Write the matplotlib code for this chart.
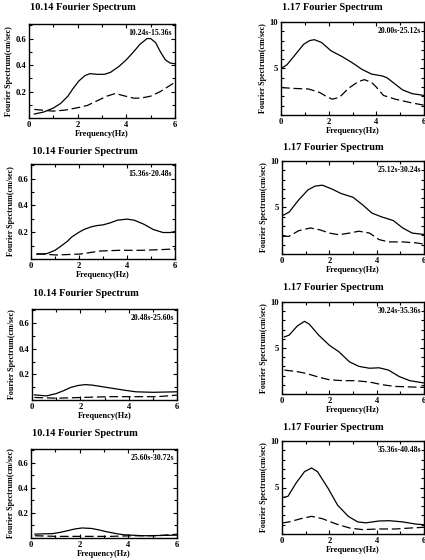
import numpy as np
import matplotlib
matplotlib.use("Agg")
import matplotlib.pyplot as plt
from matplotlib.ticker import MultipleLocator, FixedLocator

plt.rcParams['font.family'] = ['Liberation Serif', 'DejaVu Serif']
plt.rcParams['font.weight'] = 'bold'

W, H = 425, 560

# ---- left column: station 10.14 ----
f1s = [0.22, 0.6, 1.0, 1.3, 1.6, 1.8, 2.05, 2.3, 2.5, 2.8, 3.1, 3.35, 3.7, 4.0, 4.3, 4.55, 4.85, 5.0, 5.2, 5.4, 5.6, 5.8, 6.0]
a1s = [0.03, 0.045, 0.075, 0.11, 0.165, 0.22, 0.28, 0.32, 0.335, 0.33, 0.33, 0.345, 0.39, 0.44, 0.50, 0.555, 0.60, 0.60, 0.57, 0.50, 0.44, 0.415, 0.41]
f1d = [0.22, 0.5, 0.8, 1.0, 1.5, 2.0, 2.4, 2.8, 3.2, 3.55, 3.9, 4.3, 4.6, 5.0, 5.4, 5.7, 6.0]
a1d = [0.065, 0.06, 0.055, 0.052, 0.06, 0.078, 0.095, 0.13, 0.165, 0.185, 0.168, 0.15, 0.15, 0.165, 0.2, 0.235, 0.27]

f3s = [0.24, 0.66, 1.0, 1.2, 1.5, 1.7, 2.0, 2.2, 2.5, 2.75, 3.0, 3.3, 3.6, 4.0, 4.3, 4.7, 5.1, 5.5, 5.8, 6.0]
a3s = [0.035, 0.04, 0.065, 0.09, 0.13, 0.165, 0.2, 0.22, 0.24, 0.25, 0.255, 0.27, 0.29, 0.298, 0.29, 0.26, 0.22, 0.198, 0.198, 0.205]
f3d = [0.24, 1.05, 2.05, 2.9, 3.7, 4.6, 5.4, 6.0]
a3d = [0.04, 0.03, 0.037, 0.06, 0.065, 0.065, 0.07, 0.075]

f5s = [0.1, 0.6, 1.0, 1.3, 1.6, 1.9, 2.2, 2.5, 3.1, 3.8, 4.3, 5.0, 5.5, 6.0]
a5s = [0.04, 0.032, 0.05, 0.072, 0.098, 0.113, 0.12, 0.116, 0.098, 0.077, 0.064, 0.06, 0.062, 0.064]
f5d = [0.1, 1.0, 2.1, 3.2, 4.3, 5.2, 6.0]
a5d = [0.02, 0.014, 0.02, 0.026, 0.026, 0.026, 0.038]

f7s = [0.16, 0.9, 1.2, 1.5, 1.8, 2.1, 2.5, 2.8, 3.1, 3.5, 3.8, 4.6, 5.3, 6.0]
a7s = [0.031, 0.035, 0.045, 0.058, 0.072, 0.08, 0.076, 0.064, 0.05, 0.035, 0.026, 0.018, 0.02, 0.023]
f7d = [0.16, 1.05, 2.15, 3.25, 4.2, 5.15, 6.0]
a7d = [0.018, 0.013, 0.013, 0.013, 0.018, 0.018, 0.03]

# ---- right column: station 1.17 ----
f2s = [0.0, 0.25, 0.6, 0.95, 1.2, 1.4, 1.7, 2.1, 2.55, 3.0, 3.4, 3.8, 4.25, 4.45, 4.7, 5.1, 5.5, 6.0]
a2s = [5.0, 5.4, 6.5, 7.6, 8.0, 8.1, 7.8, 6.9, 6.3, 5.6, 4.9, 4.4, 4.2, 4.0, 3.5, 2.7, 2.3, 2.1]
f2d = [0.0, 0.6, 1.15, 1.6, 1.9, 2.15, 2.45, 2.85, 3.25, 3.5, 3.8, 4.0, 4.3, 4.8, 5.4, 6.0]
a2d = [2.95, 2.85, 2.8, 2.45, 2.0, 1.7, 1.9, 2.9, 3.6, 3.8, 3.5, 3.0, 2.1, 1.7, 1.35, 1.05]

f4s = [0.0, 0.3, 0.7, 1.1, 1.4, 1.7, 2.1, 2.5, 3.0, 3.4, 3.8, 4.2, 4.7, 5.1, 5.5, 6.0]
a4s = [4.1, 4.5, 5.8, 6.9, 7.3, 7.4, 7.0, 6.5, 6.1, 5.3, 4.4, 4.0, 3.6, 2.8, 2.25, 2.1]
f4d = [0.0, 0.3, 0.7, 1.2, 1.6, 2.0, 2.4, 2.85, 3.25, 3.7, 4.1, 4.5, 5.1, 5.65, 6.0]
a4d = [1.9, 1.9, 2.5, 2.8, 2.6, 2.25, 2.07, 2.25, 2.45, 2.25, 1.55, 1.3, 1.3, 1.2, 1.07]

f6s = [0.1, 0.3, 0.65, 0.95, 1.15, 1.55, 2.0, 2.4, 2.85, 3.25, 3.7, 4.1, 4.5, 4.95, 5.4, 6.0]
a6s = [6.2, 6.4, 7.4, 7.9, 7.6, 6.4, 5.3, 4.6, 3.5, 3.0, 2.8, 2.85, 2.6, 1.9, 1.45, 1.2]
f6d = [0.1, 0.6, 1.0, 1.6, 2.0, 2.55, 3.1, 3.7, 4.25, 4.8, 6.0]
a6d = [2.6, 2.45, 2.25, 1.8, 1.55, 1.45, 1.45, 1.3, 1.0, 0.82, 0.72]

f8s = [0.0, 0.25, 0.6, 0.95, 1.25, 1.5, 1.95, 2.35, 2.8, 3.2, 3.55, 4.1, 4.55, 5.1, 5.65, 6.0]
a8s = [3.9, 4.05, 5.5, 6.7, 7.1, 6.7, 4.9, 3.1, 1.9, 1.3, 1.2, 1.4, 1.43, 1.3, 1.07, 1.0]
f8d = [0.0, 0.3, 0.8, 1.25, 1.7, 2.3, 2.85, 3.4, 4.1, 4.8, 5.4, 6.0]
a8d = [1.18, 1.3, 1.65, 1.9, 1.65, 1.07, 0.65, 0.47, 0.54, 0.54, 0.64, 0.72]

left_titles = ["10.14 Fourier Spectrum"] * 4
right_titles = ["1.17 Fourier Spectrum"] * 4
left_ranges = ["10.24s-15.36s", "15.36s-20.48s", "20.48s-25.60s", "25.60s-30.72s"]
right_ranges = ["20.00s-25.12s", "25.12s-30.24s", "30.24s-35.36s", "35.36s-40.48s"]

left_data = [(f1s, a1s, f1d, a1d), (f3s, a3s, f3d, a3d), (f5s, a5s, f5d, a5d), (f7s, a7s, f7d, a7d)]
right_data = [(f2s, a2s, f2d, a2d), (f4s, a4s, f4d, a4d), (f6s, a6s, f6d, a6d), (f8s, a8s, f8d, a8d)]

# pixel boxes (left, top, right, bottom)
left_boxes = [(29, 24, 175, 118), (31, 164, 175, 259), (32, 309, 177, 400), (31, 449, 177, 538)]
right_boxes = [(281, 22, 424, 115), (282, 161, 424, 254), (282, 302, 424, 394), (282, 441, 424, 534)]
left_title_y = [8, 152, 294, 433]
right_title_y = [8, 148, 288, 428]

fig = plt.figure(figsize=(W / 100, H / 100), dpi=100)


def px_axes(box):
    l, t, r, b = box
    return fig.add_axes([l / W, 1 - b / H, (r - l) / W, (b - t) / H])


def style(ax, ymax, ymajor, yminor):
    ax.set_xlim(0, 6)
    ax.set_ylim(0, ymax)
    ax.xaxis.set_major_locator(FixedLocator([0, 2, 4, 6]))
    ax.xaxis.set_minor_locator(MultipleLocator(1))
    ax.yaxis.set_major_locator(FixedLocator(ymajor))
    ax.yaxis.set_minor_locator(MultipleLocator(yminor))
    ax.tick_params(which='both', direction='in', top=True, right=True,
                   width=0.8, labelsize=6.2, pad=2)
    ax.tick_params(which='major', length=3)
    ax.tick_params(which='minor', length=2.5)
    for lab in ax.get_xticklabels() + ax.get_yticklabels():
        lab.set_fontweight('bold')
    for s in ax.spines.values():
        s.set_linewidth(1.0)
    ax.set_xlabel("Frequency(Hz)", fontsize=6, fontweight='bold', labelpad=1)
    ax.set_ylabel("Fourier Spectrum(cm/sec)", fontsize=5.8, fontweight='bold', labelpad=2)


def draw(ax, d, rng):
    fs, a_s, fd, a_d = d
    ax.plot(fs, a_s, color='black', lw=0.9)
    ax.plot(fd, a_d, color='black', lw=0.9, linestyle=(0, (7, 3)))
    ax.text(0.98, 0.9, rng, transform=ax.transAxes, ha='right', va='center',
            fontsize=5.6, fontweight='bold')


for i in range(4):
    ax = px_axes(left_boxes[i])
    draw(ax, left_data[i], left_ranges[i])
    style(ax, 0.71, [0.2, 0.4, 0.6], 0.1)
    ax.yaxis.set_major_formatter(matplotlib.ticker.FormatStrFormatter('%.1f'))
    fig.text((left_boxes[i][0] + 1) / W, 1 - left_title_y[i] / H, left_titles[i],
             fontsize=7.5, fontweight='bold', ha='left', va='center')

    ax = px_axes(right_boxes[i])
    draw(ax, right_data[i], right_ranges[i])
    style(ax, 10, [5, 10], 1)
    fig.text((right_boxes[i][0] + 1) / W, 1 - right_title_y[i] / H, right_titles[i],
             fontsize=7.5, fontweight='bold', ha='left', va='center')

fig.savefig("out.png", dpi=100)
